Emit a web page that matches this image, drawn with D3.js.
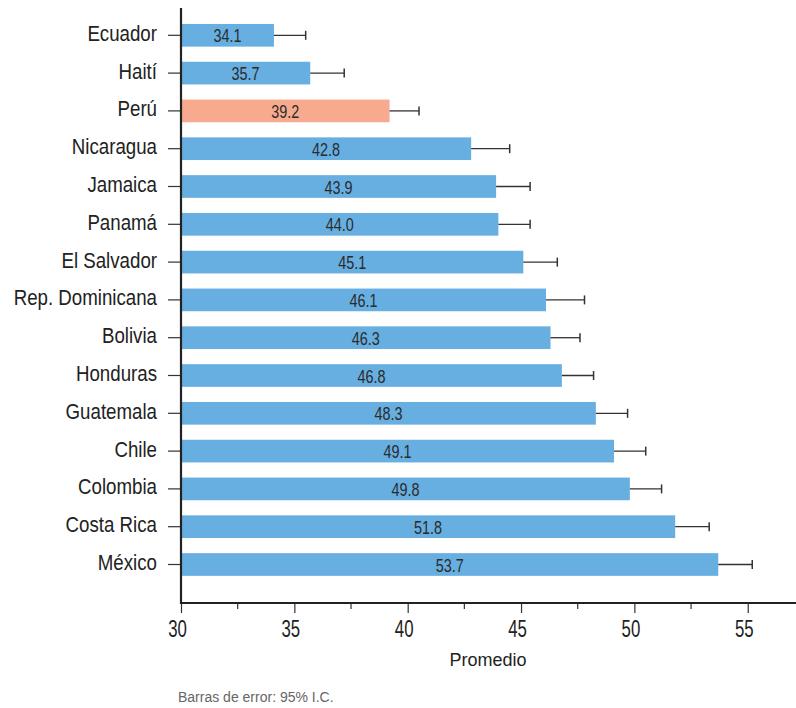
<!DOCTYPE html>
<html><head><meta charset="utf-8">
<script src="https://cdn.jsdelivr.net/npm/d3@7"></script>
<style>
body{margin:0;background:#fff;}
text{font-family:"Liberation Sans","Arial",sans-serif;}
</style></head>
<body><svg id="c" width="796" height="708"></svg>
<script>
const countries = ["Ecuador","Haití","Perú","Nicaragua","Jamaica","Panamá","El Salvador","Rep. Dominicana","Bolivia","Honduras","Guatemala","Chile","Colombia","Costa Rica","México"];
const means = [34.1,35.7,39.2,42.8,43.9,44.0,45.1,46.1,46.3,46.8,48.3,49.1,49.8,51.8,53.7];
const upperCI = [35.5,37.2,40.5,44.5,45.4,45.4,46.6,47.8,47.6,48.2,49.7,50.5,51.2,53.3,55.2];
const highlight = ["Perú"];
const majorTicks = [30,35,40,45,50,55];
const minorTicks = [32.5,37.5,42.5,47.5,52.5];

const svg = d3.select("#c");
const x = d3.scaleLinear().domain([30,57.2]).range([181,797.6]);
const y = d3.scaleBand().domain(countries).range([16.4,583.4]).paddingInner(0.4).paddingOuter(0.2);

const data = countries.map((c,i)=>({c, m:means[i], u:upperCI[i]}));

// bars
svg.selectAll("rect.bar").data(data).join("rect")
  .attr("x", x(30)+1).attr("y", d=>y(d.c))
  .attr("width", d=>x(d.m)-x(30)-1).attr("height", y.bandwidth())
  .attr("fill", d=>highlight.includes(d.c) ? "#F8AA8E" : "#67AEE1");

// error bars
const eb = svg.selectAll("g.eb").data(data).join("g");
eb.append("line").attr("x1", d=>x(d.m)).attr("x2", d=>x(d.u))
  .attr("y1", d=>y(d.c)+y.bandwidth()/2).attr("y2", d=>y(d.c)+y.bandwidth()/2)
  .attr("stroke","#333").attr("stroke-width",1.3);
eb.append("line").attr("x1", d=>x(d.u)).attr("x2", d=>x(d.u))
  .attr("y1", d=>y(d.c)+y.bandwidth()/2-4.5).attr("y2", d=>y(d.c)+y.bandwidth()/2+4.5)
  .attr("stroke","#333").attr("stroke-width",1.5);

// value labels (condensed)
svg.selectAll("text.val").data(data).join("text")
  .attr("transform", d=>`translate(${(x(30)+x(d.m))/2},${y(d.c)+y.bandwidth()/2+7}) scale(0.8,1)`)
  .attr("text-anchor","middle").attr("font-size",18).attr("fill","#2b2b2b")
  .text(d=>d.m.toFixed(1));

// x axis
const xAxisY = 603;
const gx = svg.append("g").attr("transform",`translate(0,${xAxisY})`);
gx.call(d3.axisBottom(x).tickValues(majorTicks).tickSize(10).tickFormat(d3.format("d")));
gx.select(".domain").remove();
gx.selectAll(".tick line").attr("stroke","#333").attr("stroke-width",1.2);
gx.selectAll(".tick text").attr("font-size",24).attr("fill","#222")
  .attr("dy",null).attr("y",null).attr("transform","translate(-4,34) scale(0.7,1)");
gx.selectAll(".minor").data(minorTicks).join("line").attr("class","minor")
  .attr("x1",d=>x(d)).attr("x2",d=>x(d)).attr("y1",0).attr("y2",6)
  .attr("stroke","#333").attr("stroke-width",1.2);
svg.append("line").attr("x1",180).attr("x2",796).attr("y1",xAxisY).attr("y2",xAxisY)
  .attr("stroke","#222").attr("stroke-width",2.2);

// y axis
const gy = svg.append("g").attr("transform","translate(181,0)");
gy.call(d3.axisLeft(y).tickSize(13).tickPadding(12));
gy.select(".domain").remove();
gy.selectAll(".tick line").attr("stroke","#333").attr("stroke-width",1.2);
gy.selectAll(".tick text").attr("font-size",22).attr("fill","#222")
  .attr("x",null).attr("dy",null).attr("transform","translate(-24,5.5) scale(0.85,1)");
svg.append("line").attr("x1",181).attr("x2",181).attr("y1",8).attr("y2",604)
  .attr("stroke","#222").attr("stroke-width",2.2);

// axis title
svg.append("text").attr("x",488).attr("y",666).attr("text-anchor","middle")
  .attr("font-size",18).attr("fill","#222").text("Promedio");

// footnote
svg.append("text").attr("x",178).attr("y",702).attr("font-size",14).attr("fill","#666")
  .text("Barras de error: 95% I.C.");
</script></body></html>
